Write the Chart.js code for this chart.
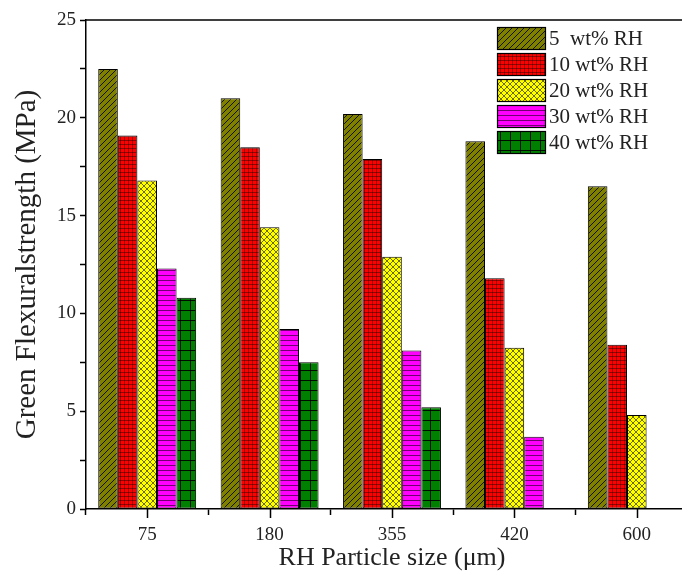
<!DOCTYPE html>
<html>
<head>
<meta charset="utf-8">
<script src="https://cdn.jsdelivr.net/npm/chart.js@4"></script>
<style>
  body { margin: 0; background: #fff; overflow: hidden; }
  #wrap { width: 720px; height: 580px; }
</style>
</head>
<body>
<div id="wrap"><canvas id="newChart" width="720" height="580"></canvas></div>
<script>
const sizes = ["75", "180", "355", "420", "600"];
const seriesNames = ["5  wt% RH", "10 wt% RH", "20 wt% RH", "30 wt% RH", "40 wt% RH"];
const rh5 = [22.5, 21.0, 20.2, 18.8, 16.5];
const rh10 = [19.1, 18.5, 17.9, 11.8, 8.4];
const rh20 = [16.8, 14.4, 12.9, 8.25, 4.8];
const rh30 = [12.3, 9.2, 8.1, 3.7, null];
const rh40 = [10.8, 7.5, 5.2, null, null];

const serif = "'Liberation Serif', 'Times New Roman', serif";

// build a repeating fill pattern
function makePattern(size, bg, draw) {
    const c = document.createElement("canvas");
    c.width = size.w;
    c.height = size.h;
    const g = c.getContext("2d");
    g.fillStyle = bg;
    g.fillRect(0, 0, size.w, size.h);
    g.strokeStyle = "rgba(0,0,0,0.85)";
    g.lineWidth = 1;
    draw(g, size.w, size.h);
    return g.createPattern(c, "repeat");
}

const diagPat = makePattern({ w: 6, h: 6 }, "#808000", (g, w, h) => {
    g.beginPath();
    g.moveTo(-1, h + 1); g.lineTo(w + 1, -1);
    g.moveTo(-1, 1); g.lineTo(1, -1);
    g.moveTo(w - 1, h + 1); g.lineTo(w + 1, h - 1);
    g.stroke();
});
const gridPat = makePattern({ w: 4, h: 4 }, "#ff0000", (g, w, h) => {
    g.fillStyle = "rgba(0,0,0,0.4)";
    g.fillRect(0, 0, w, 1);
    g.fillRect(0, 0, 1, h);
});
const crossPat = makePattern({ w: 6, h: 6 }, "#ffff00", (g, w, h) => {
    g.strokeStyle = "rgba(60,60,0,0.75)";
    g.beginPath();
    g.moveTo(0, 0); g.lineTo(w, h);
    g.moveTo(0, h); g.lineTo(w, 0);
    g.stroke();
});
const horizPat = makePattern({ w: 4, h: 5 }, "#ff00ff", (g, w, h) => {
    g.fillStyle = "rgba(80,0,80,0.8)";
    g.fillRect(0, 0, w, 1);
});
const bigGridPat = makePattern({ w: 10, h: 10 }, "#008000", (g, w, h) => {
    g.fillStyle = "rgba(0,0,0,0.9)";
    g.fillRect(0, 0, w, 1);
    g.fillRect(0, 0, 1, h);
});

const fills = [diagPat, gridPat, crossPat, horizPat, bigGridPat];
const values = [rh5, rh10, rh20, rh30, rh40];

// center ticks on x axis, top frame line and legend box
const extras = {
    id: "extras",
    afterDraw(chart) {
        const { ctx, chartArea, scales } = chart;
        const x = scales.x;
        ctx.save();
        ctx.strokeStyle = "#000";
        ctx.lineWidth = 1.5;
        ctx.beginPath();
        for (let i = 0; i < sizes.length; i++) {
            const px = Math.round(x.getPixelForValue(i)) + 0.5;
            ctx.moveTo(px, chartArea.bottom);
            ctx.lineTo(px, chartArea.bottom + 9);
        }
        ctx.moveTo(chartArea.left, chartArea.top);
        ctx.lineTo(chartArea.right, chartArea.top);
        ctx.stroke();

        // legend
        const lx = 497, ly = 27, bw = 48, bh = 22, gap = 26;
        ctx.font = "21px " + serif;
        ctx.textBaseline = "middle";
        chart.data.datasets.forEach((ds, i) => {
            const y = ly + i * gap;
            ctx.fillStyle = ds.backgroundColor;
            ctx.fillRect(lx, y, bw, bh);
            ctx.lineWidth = 1.2;
            ctx.strokeStyle = "#000";
            ctx.strokeRect(lx + 0.5, y + 0.5, bw, bh);
            ctx.fillStyle = "#222";
            ctx.fillText(ds.label, lx + bw + 4, y + bh / 2 + 1);
        });
        ctx.restore();
    }
};

const displayChart = new Chart(document.getElementById("newChart"), {
    type: "bar",
    data: {
        labels: sizes,
        datasets: seriesNames.map((name, i) => ({
            label: name,
            data: values[i],
            backgroundColor: fills[i],
            borderColor: "#000",
            borderWidth: 1,
            borderSkipped: false,
            categoryPercentage: 0.8,
            barPercentage: 1.0,
        })),
    },
    options: {
        responsive: false,
        animation: false,
        layout: { padding: { top: 20, right: 22, left: 0, bottom: 0 } },
        plugins: {
            legend: { display: false },
            tooltip: { enabled: false },
        },
        scales: {
            x: {
                offset: true,
                afterFit: (s) => { s.height = 71; },
                grid: {
                    offset: true,
                    drawOnChartArea: false,
                    drawTicks: true,
                    tickLength: 6,
                    tickWidth: 1.5,
                    tickColor: "#000",
                },
                border: { display: true, color: "#000", width: 1.5 },
                ticks: {
                    color: "#222",
                    padding: 9,
                    font: { family: serif, size: 19 },
                },
                title: {
                    display: true,
                    text: "RH Particle size (\u03bcm)",
                    color: "#222",
                    font: { family: serif, size: 26 },
                    padding: { top: 0, bottom: 6 },
                },
            },
            y: {
                min: 0,
                max: 25,
                afterFit: (s) => { s.width = 86; },
                grid: {
                    drawOnChartArea: false,
                    drawTicks: true,
                    tickLength: 6,
                    tickWidth: 1.5,
                    tickColor: "#000",
                },
                border: { display: true, color: "#000", width: 1.5 },
                ticks: {
                    stepSize: 2.5,
                    color: "#222",
                    padding: 4,
                    font: { family: serif, size: 19 },
                    callback: (v) => (v % 5 === 0 ? v : ""),
                },
                title: {
                    display: true,
                    text: "Green Flexuralstrength (MPa)",
                    color: "#222",
                    font: { family: serif, size: 29 },
                    padding: { top: 10, bottom: 0 },
                },
            },
        },
    },
    plugins: [extras],
});
</script>
</body>
</html>
